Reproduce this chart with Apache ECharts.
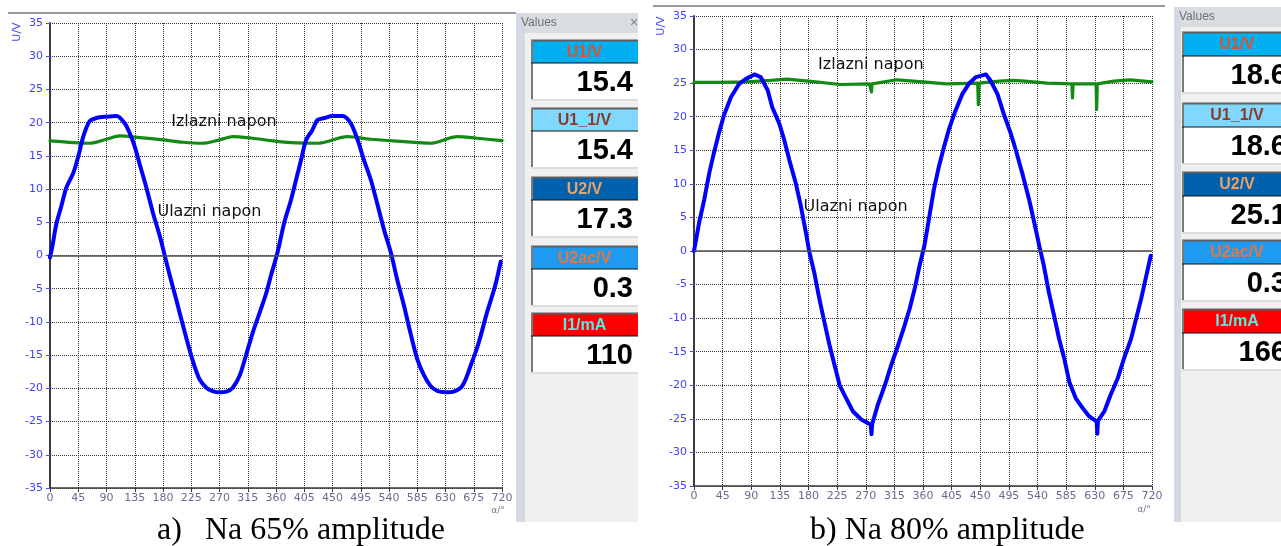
<!DOCTYPE html>
<html><head><meta charset="utf-8">
<script src="https://cdn.jsdelivr.net/npm/echarts@6/dist/echarts.min.js"></script>
<style>html,body{margin:0;padding:0;background:#fff}#c{width:1281px;height:546px}</style>
</head><body><div id="c"></div>
<script>
// ---------- DATA ----------
// (a) 65% amplitude : input voltage (Ulazni napon), angle in degrees
const angA_in = [0,4,10,18,26,37,45,53,63,74,90,106,119,127,135,143,153,164,175,183,191,201,212,222,230,238,249,259,270,281,291,302,312,323,334,344,352,362,373,384,392,400,408,418,426,437,450,466,479,490,500,511,521,532,543,553,564,574,585,596,606,617,630,643,657,670,683,696,709,718];
const volA_in = [-0.3,1.5,4.7,7.4,10.2,12.4,14.9,17.9,20.2,20.7,20.9,21.0,19.9,18.4,16.4,13.7,10.4,6.4,2.9,-0.1,-3.1,-6.6,-10.6,-14.1,-16.6,-18.6,-19.9,-20.4,-20.6,-20.5,-19.9,-18.1,-15.1,-11.6,-8.6,-5.8,-3.0,0.3,4.9,8.4,11.4,14.4,17.4,18.9,20.4,20.7,21.0,21.0,19.9,17.4,14.4,11.4,7.9,3.9,0.4,-3.6,-7.6,-11.6,-15.6,-18.1,-19.6,-20.4,-20.6,-20.5,-19.6,-16.6,-13.1,-8.6,-4.6,-0.9];
// (a) output voltage (Izlazni napon)
const angA_out = [0,37,63,90,111,143,180,212,243,270,291,323,352,384,426,474,511,564,606,649,680,720];
const volA_out = [17.25,17.0,16.9,17.5,18.0,17.75,17.4,17.05,16.9,17.4,17.9,17.65,17.3,17.0,16.9,17.9,17.5,17.15,16.9,17.9,17.65,17.3];
// (b) 80% amplitude : input voltage
const angB_in = [0,8,16,24,31,39,47,58,71,81,95,105,116,123,134,142,150,160,168,176,181,189,197,205,213,221,229,239,250,263,273,278,279,280,289,300,310,321,331,339,347,355,362,369,377,385,393,401,411,422,432,443,459,466,477,487,498,506,516,527,535,543,550,558,566,574,582,590,600,611,621,633,634,635,645,655,666,676,687,695,703,711,718];
const volB_in = [0.0,4.2,7.6,11.6,14.5,17.5,20.2,22.9,24.9,25.6,26.3,25.9,23.9,21.4,19.0,16.5,13.5,10.1,6.7,2.7,0.0,-3.2,-7.1,-10.6,-14.0,-17.0,-20.0,-21.9,-23.9,-25.1,-25.6,-25.9,-27.3,-25.8,-22.9,-20.0,-17.0,-14.0,-11.1,-8.6,-5.6,-2.0,0.7,4.6,9.1,12.6,15.5,18.2,20.9,23.4,24.9,25.9,26.3,25.4,23.4,20.4,17.5,15.0,11.6,7.6,4.2,0.7,-2.2,-6.2,-9.6,-13.1,-16.0,-19.5,-21.9,-23.4,-24.6,-25.4,-27.2,-25.3,-23.9,-21.4,-19.0,-16.0,-13.1,-10.1,-7.1,-3.7,-0.7];
// (b) output voltage
const angB_out = [0,40,83,120,146,180,230,276,278,279,280,319,360,397,446,447,448,480,502,520,555,594,595,596,607,632,633,634,660,686,720];
const volB_out = [25.1,25.1,25.2,25.4,25.6,25.3,24.8,24.9,24.9,23.7,24.9,25.5,25.2,24.9,25.0,21.8,25.0,25.3,25.4,25.3,25.0,24.9,22.8,24.9,24.9,24.9,21.1,24.9,25.3,25.5,25.2];
// axes
const angleMin = 0, angleMax = 720, angleStep = 45;
const voltMin = -35, voltMax = 35, voltStep = 5;
// meter panels
const meterNames = ['U1/V','U1_1/V','U2/V','U2ac/V','I1/mA'];
const meterA = ['15.4','15.4','17.3','0.3','110'];
const meterB = ['18.6','18.6','25.1','0.3','166'];
const captionA = ['a)', 'Na 65% amplitude'];
const captionB = 'b) Na 80% amplitude';
const labelIn = 'Ulazni napon', labelOut = 'Izlazni napon';

// ---------- STYLE / LAYOUT ----------
const zip = (xs, ys) => xs.map((x, i) => [x, ys[i]]);
const headBg = ['#00b0f0','#80d8ff','#0062ad','#1e9bf0','#ff0000'];
const headFg = ['#e0502a','#8b3a2a','#f0a060','#e8763a','#5ce6e6'];
const SANS = 'DejaVu Sans';

function axisX(i){
  return {type:'value', gridIndex:i, min:angleMin, max:angleMax, interval:angleStep,
    axisLine:{show:true,onZero:false,lineStyle:{color:'#3a3a3a',width:1.5}},
    axisTick:{show:true,length:4,lineStyle:{color:'#3a3a3a'}},
    axisLabel:{margin:5,fontFamily:SANS,fontSize:11,color:'#6f6790'},
    splitLine:{show:true,lineStyle:{color:'#333',type:[1,1],width:1}}};
}
function axisY(i){
  return {type:'value', gridIndex:i, min:voltMin, max:voltMax, interval:voltStep,
    axisLine:{show:true,onZero:false,lineStyle:{color:'#3a3a3a',width:2}},
    axisTick:{show:true,length:4,lineStyle:{color:'#4848ff'}},
    axisLabel:{margin:7,fontFamily:SANS,fontSize:11,color:'#4040ff'},
    splitLine:{show:true,lineStyle:{color:'#333',type:[1,1],width:1}}};
}
function labelPoint(text, coord){
  return {coord:coord, value:text, symbol:'circle', symbolSize:1,
    itemStyle:{color:'rgba(0,0,0,0)'},
    label:{show:true,position:'inside',formatter:text,color:'#111',fontFamily:SANS,fontSize:16}};
}
function seriesPair(gi, inData, outData, inLbl, outLbl, sm){
  return [
    {type:'line', xAxisIndex:gi, yAxisIndex:gi, data:outData, showSymbol:false, smooth:sm, z:3,
     lineStyle:{color:'#138a13',width:3.2,join:'round',cap:'round'}, silent:true,
     markLine:{silent:true,symbol:['none','none'],label:{show:false},lineStyle:{color:'#505050',width:1.5,type:'solid'},data:[{yAxis:0}]},
     markPoint:{silent:true,data:[labelPoint(labelOut,outLbl)]}},
    {type:'line', xAxisIndex:gi, yAxisIndex:gi, data:inData, showSymbol:false, smooth:sm, z:4,
     lineStyle:{color:'#0000ff',width:4,join:'round',cap:'round'}, silent:true,
     markPoint:{silent:true,data:[labelPoint(labelIn,inLbl)]}}
  ];
}

function panel(p, values){
  const els = [];
  els.push({type:'rect',shape:{x:p.strip,y:p.top,width:p.bg-p.strip,height:p.bottom-p.top},style:{fill:'#d3dae3'}});
  els.push({type:'rect',shape:{x:p.bg,y:p.top,width:p.right-p.bg,height:p.bottom-p.top},style:{fill:'#f0f0f0'}});
  els.push({type:'rect',shape:{x:p.bg,y:p.top,width:p.right-p.bg,height:20},style:{fill:'#d9dce1'}});
  els.push({type:'text',x:p.strip+5,y:p.top+10,style:{text:'Values',fill:'#707070',font:'12px "Liberation Sans"',textVerticalAlign:'middle'}});
  if (p.close) els.push({type:'text',x:p.close,y:p.top+10,style:{text:'×',fill:'#808080',font:'14px "Liberation Sans"',textVerticalAlign:'middle'}});
  p.tops.forEach((t,i)=>{
    const x = p.boxX, w = p.boxW, hh = p.headH, vh = 37;
    els.push({type:'rect',shape:{x:x,y:t,width:w,height:hh},style:{fill:headBg[i]}});
    els.push({type:'rect',shape:{x:x,y:t+hh,width:w,height:vh},style:{fill:'#ffffff'}});
    els.push({type:'line',shape:{x1:x,y1:t+0.5,x2:x+w,y2:t+0.5},style:{stroke:'#5e5e5e',lineWidth:2}});
    els.push({type:'line',shape:{x1:x+1,y1:t,x2:x+1,y2:t+hh+vh},style:{stroke:'#7a7a7a',lineWidth:2}});
    els.push({type:'line',shape:{x1:x,y1:t+hh,x2:x+w,y2:t+hh},style:{stroke:'#111',lineWidth:1}});
    els.push({type:'line',shape:{x1:x,y1:t+hh+vh,x2:x+w,y2:t+hh+vh},style:{stroke:'#dcdcdc',lineWidth:2}});
    els.push({type:'text',x:x+w/2,y:t+hh/2+1,style:{text:meterNames[i],fill:headFg[i],font:'bold 16px "Liberation Sans"',textAlign:'center',textVerticalAlign:'middle'}});
    els.push({type:'text',x:x+w-5,y:t+hh+vh/2+1,style:{text:values[i],fill:'#000',font:'bold 29px "Liberation Sans"',textAlign:'right',textVerticalAlign:'middle'}});
  });
  return els;
}

const graphics = [].concat(
  [
    {type:'line',shape:{x1:8,y1:13,x2:516,y2:13},style:{stroke:'#9a9a9a',lineWidth:2}},
    {type:'line',shape:{x1:653,y1:6,x2:1165,y2:6},style:{stroke:'#9a9a9a',lineWidth:2}},
    {type:'text',x:17,y:32,rotation:Math.PI/2,style:{text:'U/V',fill:'#4848ff',font:'11px "DejaVu Sans"',textAlign:'center',textVerticalAlign:'middle'}},
    {type:'text',x:661,y:26,rotation:Math.PI/2,style:{text:'U/V',fill:'#4848ff',font:'11px "DejaVu Sans"',textAlign:'center',textVerticalAlign:'middle'}},
    {type:'text',x:498,y:511,style:{text:'α/°',fill:'#707080',font:'9px "DejaVu Sans"',textAlign:'center',textVerticalAlign:'middle'}},
    {type:'text',x:1144,y:510,style:{text:'α/°',fill:'#707080',font:'9px "DejaVu Sans"',textAlign:'center',textVerticalAlign:'middle'}},
    {type:'text',x:157,y:531,style:{text:captionA[0],fill:'#000',font:'32px "Liberation Serif"',textVerticalAlign:'middle'}},
    {type:'text',x:205,y:531,style:{text:captionA[1],fill:'#000',font:'32px "Liberation Serif"',textVerticalAlign:'middle'}},
    {type:'text',x:810,y:531,style:{text:captionB,fill:'#000',font:'32px "Liberation Serif"',textVerticalAlign:'middle'}}
  ],
  panel({strip:516,bg:525,right:638,top:13,bottom:522,boxX:531,boxW:107,headH:23,tops:[40,108,177,246,313],close:630}, meterA),
  panel({strip:1174,bg:1181,right:1281,top:7,bottom:522,boxX:1182,boxW:110,headH:24,tops:[32,103,172,240,309]}, meterB)
);

const chart = echarts.init(document.getElementById('c'), null, {renderer:'canvas'});
chart.setOption({
  animation:false,
  backgroundColor:'#ffffff',
  grid:[{left:50,top:23,width:452,height:465},{left:694,top:16,width:458,height:470}],
  xAxis:[axisX(0),axisX(1)],
  yAxis:[axisY(0),axisY(1)],
  series:[].concat(
    seriesPair(0, zip(angA_in,volA_in), zip(angA_out,volA_out), [254,6.6], [277,20.1], 0.3),
    seriesPair(1, zip(angB_in,volB_in), zip(angB_out,volB_out), [254,6.6], [278,27.7], false)
  ),
  graphic:{elements:graphics}
});
</script></body></html>
